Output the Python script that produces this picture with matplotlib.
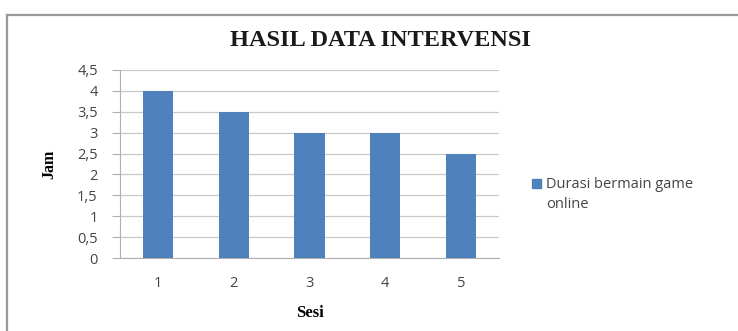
import matplotlib.pyplot as plt
from matplotlib.patches import Rectangle
from matplotlib.lines import Line2D

sesi = ["1", "2", "3", "4", "5"]
durasi = [4, 3.5, 3, 3, 2.5]
y_ticks = [0, 0.5, 1, 1.5, 2, 2.5, 3, 3.5, 4, 4.5]
y_tick_labels = ["0", "0,5", "1", "1,5", "2", "2,5", "3", "3,5", "4", "4,5"]
series_name = "Durasi bermain game\nonline"

W, H = 738, 331
fig = plt.figure(figsize=(W / 100, H / 100), dpi=100)
fig.patch.set_facecolor("white")

# chart frame
fig.add_artist(Line2D([7 / W, 7 / W], [0, 1 - 15 / H], transform=fig.transFigure,
                      color="#9a9a9a", lw=1.6))
fig.add_artist(Line2D([7 / W, 1], [1 - 15 / H, 1 - 15 / H], transform=fig.transFigure,
                      color="#9a9a9a", lw=1.6))

ax = fig.add_axes([120 / W, 1 - 258 / H, (499 - 120) / W, (258 - 70) / H])
x = range(len(sesi))
ax.bar(x, durasi, width=0.4, color="#4F81BD", zorder=3)
ax.set_xlim(-0.5, len(sesi) - 0.5)
ax.set_ylim(0, 4.5)
ax.set_yticks(y_ticks)
ax.set_yticklabels(y_tick_labels)
ax.set_xticks(list(x))
ax.set_xticklabels(sesi)
ax.grid(axis="y", color="#c8c8c8", lw=0.9, zorder=0)
for s in ["top", "right"]:
    ax.spines[s].set_visible(False)
for s in ["left", "bottom"]:
    ax.spines[s].set_color("#b0b0b0")
ax.tick_params(axis="y", colors="#b0b0b0", labelcolor="#454545", length=6, pad=10,
               labelsize=10.5)
ax.tick_params(axis="x", length=0, labelcolor="#454545", labelsize=10.5, pad=13)
for lab in ax.get_xticklabels() + ax.get_yticklabels():
    lab.set_family("Open Sans")

ax.set_xlabel("Sesi", family="Liberation Serif", fontweight="bold", fontsize=12, labelpad=10)
ax.set_ylabel("Jam", family="Liberation Serif", fontweight="bold", fontsize=11.5)
ax.yaxis.set_label_coords(-0.165, 0.5)

fig.text(380 / W, 1 - 40 / H, "HASIL DATA INTERVENSI", ha="center", va="center",
         family="Liberation Serif", fontweight="bold", fontsize=17.5, color="#1a1a1a")

# legend
fig.add_artist(Rectangle((532 / W, 1 - 188 / H), 9 / W, 9 / H, transform=fig.transFigure,
                         color="#4F81BD"))
fig.text(546 / W, 1 - 177 / H, series_name, ha="left", va="top", family="Open Sans",
         fontsize=10.5, color="#454545", linespacing=1.45)

fig.savefig("out.png", dpi=100)
